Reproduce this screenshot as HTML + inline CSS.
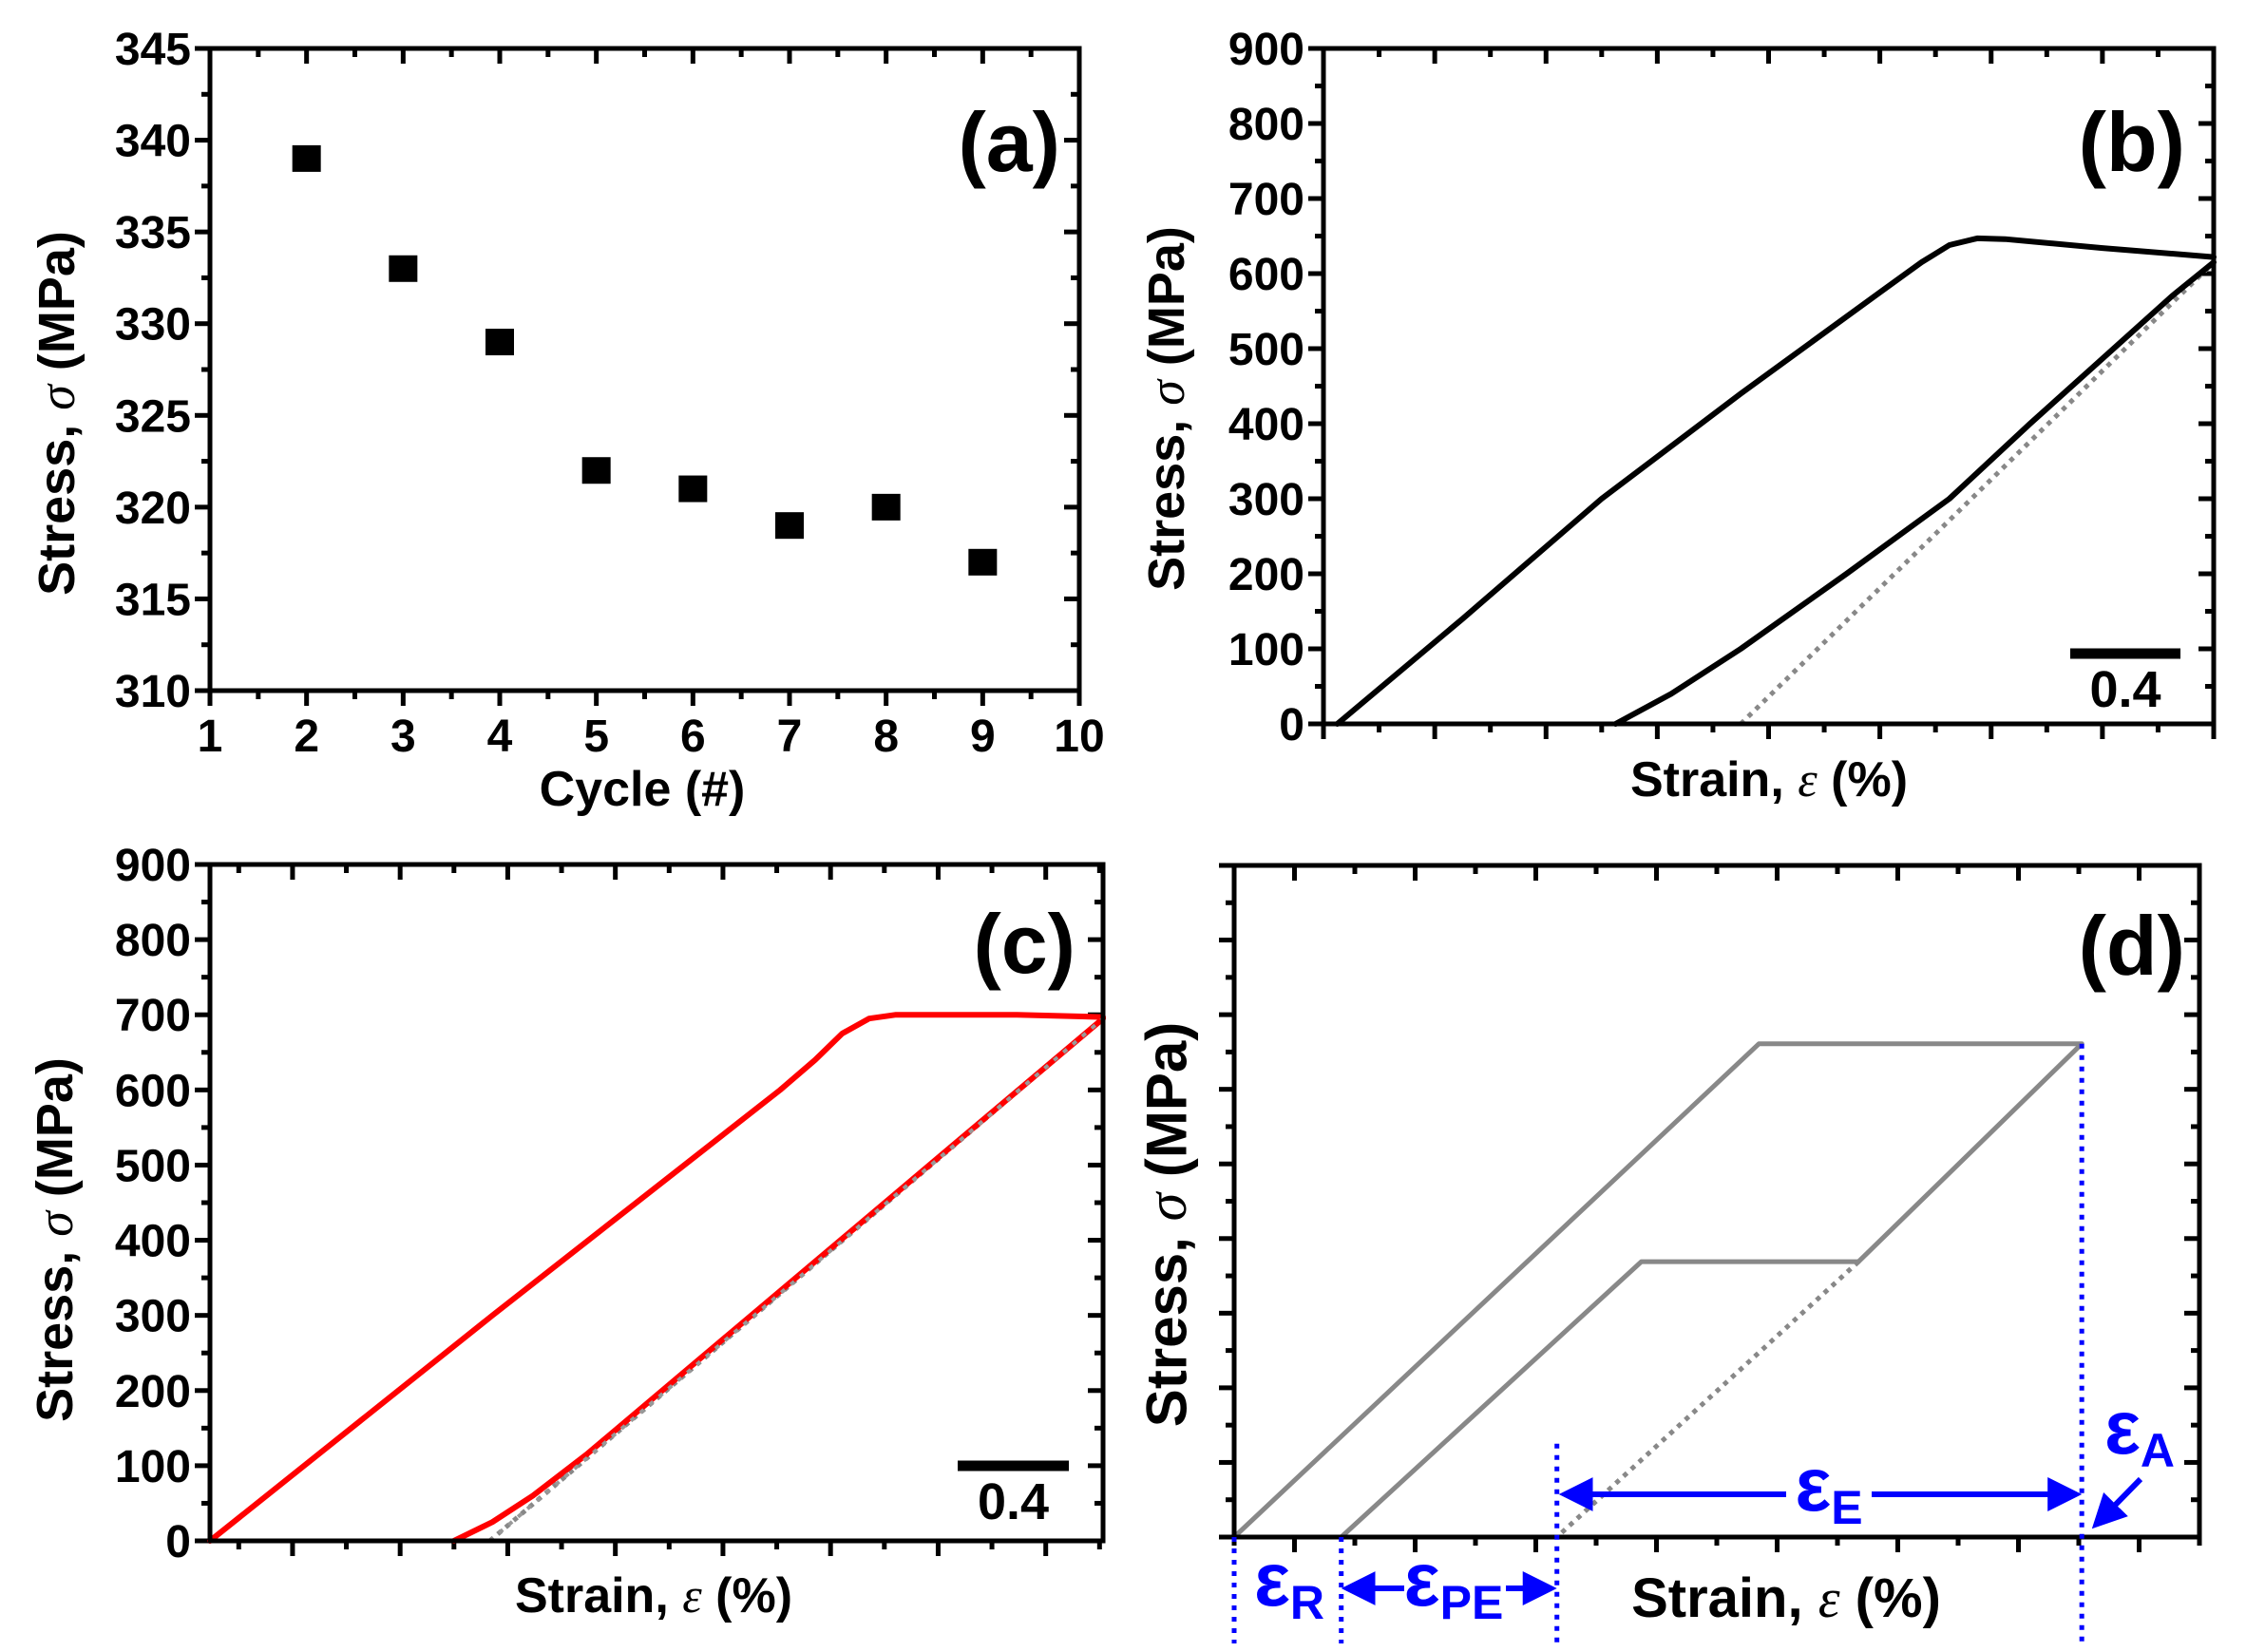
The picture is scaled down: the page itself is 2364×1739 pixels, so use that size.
<!DOCTYPE html>
<html><head><meta charset="utf-8"><style>
html,body{margin:0;padding:0;background:#fff;}
svg{display:block;}
text{font-family:"Liberation Sans",sans-serif;font-weight:bold;}
</style></head><body>
<svg id="fig" width="2364" height="1739" viewBox="0 0 2364 1739" xmlns="http://www.w3.org/2000/svg"></svg>
<script>
// ---- Panel (a) data ----
const cyclesA = [2,3,4,5,6,7,8,9];
const stressA = [339,333,329,322,321,319,320,317];
const xTicksA = [1,2,3,4,5,6,7,8,9,10];
const yTicksA = [310,315,320,325,330,335,340,345];
// ---- Panel (b) data ----
const loadStrainB = [0.05,0.5,1.0,1.5,2.0,2.15,2.25,2.35,2.45,2.8,3.2];
const loadStressB = [0,140,300,440,575,615,638,647,646,634,622];
const unloadStrainB = [1.05,1.25,1.5,1.88,2.25,2.54,2.84,3.05,3.2];
const unloadStressB = [0,40,100,200,300,400,500,570,615];
const fitStrainB = [1.5,3.2];
const fitStressB = [0,615];
// ---- Panel (c) data ----
const loadStrainC = [0,1.05,2.12,2.25,2.35,2.45,2.55,3.0,3.32];
const loadStressC = [0,300,600,640,675,695,700,700,697];
const unloadStrainC = [0.907,1.05,1.2,1.4,3.32];
const unloadStressC = [0,25,60,115,695];
const fitStrainC = [1.04,3.32];
const fitStressC = [0,695];
const yTicksStress = [0,100,200,300,400,500,600,700,800,900];
// ---- Panel (d) schematic ----
const outerStrainD = [0.355,0,1.74,2.81,2.07];
const outerStressD = [0,0,661,661,369];
const innerStrainD = [0.355,1.35,2.07];
const innerStressD = [0,369,369];
const dotStrainD = [2.07,1.07];
const dotStressD = [369,0];

const NS="http://www.w3.org/2000/svg";
const svg=document.getElementById('fig');
function mk(tag,attrs,parent){const e=document.createElementNS(NS,tag);for(const k in attrs)e.setAttribute(k,attrs[k]);(parent||svg).appendChild(e);return e;}
function txt(s,attrs,parent){const e=mk('text',attrs,parent);e.textContent=s;return e;}
function scale(d0,d1,r0,r1){return v=>r0+(v-d0)/(d1-d0)*(r1-r0);}

function frame(g,L,R,T,B){
  const r=mk('rect',{x:L,y:T,width:R-L,height:B-T,fill:'none',stroke:'#000','stroke-width':5},g);
  
  
}
function yTicks(g,ys,L,R,major){
  ys.forEach((y,i)=>{
    const len=major(i)?16:9;
    const t=mk('line',{x1:L-len,x2:L,y1:y,y2:y,stroke:'#000','stroke-width':5},g);
    
    
    const t2=mk('line',{x1:R,x2:R-len,y1:y,y2:y,stroke:'#000','stroke-width':5},g);
    
    
  });
}
function xTicks(g,xs,T,B,major){
  xs.forEach((x,i)=>{
    const len=major(i)?16:9;
    const t=mk('line',{x1:x,x2:x,y1:B,y2:B+len,stroke:'#000','stroke-width':5},g);
    
    
    const t2=mk('line',{x1:x,x2:x,y1:T,y2:T+len,stroke:'#000','stroke-width':5},g);
    
    
  });
}
function yLabels(g,vals,sy,L){
  vals.forEach(v=>{
    const t=txt(String(v),{x:L-20,y:sy(v)+17,'font-size':48,'text-anchor':'end'},g);
    
    
  });
}
function stressTitle(g,cx,cy,fs){
  const t=mk('text',{x:0,y:0,'font-size':fs,'text-anchor':'middle','dominant-baseline':'central',transform:`translate(${cx},${cy}) rotate(-90)`},g);
  
  
  t.innerHTML='Stress, <tspan font-family="Liberation Serif" font-style="italic" font-weight="normal">σ</tspan> (MPa)';
}
function strainTitle(g,cx,cy,fs){
  const t=mk('text',{x:cx,y:cy,'font-size':fs,'text-anchor':'middle'},g);
  
  
  t.innerHTML='Strain, <tspan font-family="Liberation Serif" font-style="italic" font-weight="normal">ε</tspan> (%)';
}
function panelLabel(g,s,x,y){
  const t=txt(s,{x:x,y:y,'font-size':88,'text-anchor':'end','font-family':'Liberation Sans Narrow, Liberation Sans, sans-serif'},g);
  
  
}
function curve(g,xs,ys,sx,sy,color,w,dash,name){
  const d=xs.map((x,i)=>(i?'L':'M')+sx(x).toFixed(1)+' '+sy(ys[i]).toFixed(1)).join(' ');
  const p=mk('path',{d:d,fill:'none',stroke:color,'stroke-width':w,'stroke-linejoin':'round','stroke-linecap':dash?'butt':'round'},g);
  if(dash)p.setAttribute('stroke-dasharray',dash);
  
  
}
function scaleBar(g,x1,x2,y){
  const b=mk('line',{x1:x1,x2:x2,y1:y,y2:y,stroke:'#000','stroke-width':11},g);
  
  
  const t=txt('0.4',{x:(x1+x2)/2,y:y+56,'font-size':54,'text-anchor':'middle'},g);
  
  
}

// ===== Panel A =====
(function(){
  const g=mk('g',{});
  
  
  const L=221,R=1136,T=51,B=727;
  const sx=scale(1,10,L,R), sy=scale(310,345,B,T);
  frame(g,L,R,T,B);
  const ys=[];for(let v=310;v<=345;v+=2.5)ys.push(sy(v));
  yTicks(g,ys,L,R,i=>i%2===0);
  const xs=[];for(let v=1;v<=10;v+=0.5)xs.push(sx(v));
  xTicks(g,xs,T,B,i=>i%2===0);
  yLabels(g,yTicksA,sy,L);
  xTicksA.forEach(v=>{
    const t=txt(String(v),{x:sx(v),y:B+64,'font-size':48,'text-anchor':'middle'},g);
    
    
  });
  cyclesA.forEach((c,i)=>{
    const r=mk('rect',{x:sx(c)-15,y:sy(stressA[i])-14,width:30,height:28,fill:'#000'},g);
    
    
  });
  const xt=txt('Cycle (#)',{x:676,y:848,'font-size':52,'text-anchor':'middle'},g);
  
  
  stressTitle(g,60,435,54);
  panelLabel(g,'(a)',1116,180);
})();

// ===== Panel B =====
(function(){
  const g=mk('g',{});
  
  
  const L=1393,R=2330,T=51,B=762;
  const sx=scale(0,3.2,L,R), sy=scale(0,900,B,T);
  const ys=[];for(let v=0;v<=900;v+=50)ys.push(sy(v));
  yTicks(g,ys,L,R,i=>i%2===0);
  const xs=[];for(let v=0;v<=3.2001;v+=0.2)xs.push(sx(v));
  xTicks(g,xs,T,B,i=>i%2===0);
  curve(g,fitStrainB,fitStressB,sx,sy,'#888',5,'5 6','fit-line');
  curve(g,loadStrainB,loadStressB,sx,sy,'#000',6,null,'loading-curve');
  curve(g,unloadStrainB,unloadStressB,sx,sy,'#000',6,null,'unloading-curve');
  frame(g,L,R,T,B);
  yLabels(g,yTicksStress,sy,L);
  strainTitle(g,1862,838,52);
  stressTitle(g,1228,430,54);
  panelLabel(g,'(b)',2300,180);
  scaleBar(g,2179,2295,688);
})();

// ===== Panel C =====
(function(){
  const g=mk('g',{});
  
  
  const L=221,R=1161,T=910,B=1622;
  const sx=scale(0,3.32,L,R), sy=scale(0,900,B,T);
  const ys=[];for(let v=0;v<=900;v+=50)ys.push(sy(v));
  yTicks(g,ys,L,R,i=>i%2===0);
  const xs=[];for(let v=0.107;v<=3.33;v+=0.2)xs.push(sx(v));
  xTicks(g,xs,T,B,i=>i%2===1);
  curve(g,fitStrainC,fitStressC,sx,sy,'#888',5,'5 6','fit-line');
  curve(g,loadStrainC,loadStressC,sx,sy,'#f00',6,null,'loading-curve');
  curve(g,unloadStrainC,unloadStressC,sx,sy,'#f00',6,null,'unloading-curve');
  curve(g,fitStrainC,fitStressC,sx,sy,'#999',4,'5 8','fit-line-overlay');
  frame(g,L,R,T,B);
  yLabels(g,yTicksStress,sy,L);
  strainTitle(g,688,1697,52);
  stressTitle(g,58,1305,54);
  panelLabel(g,'(c)',1132,1024);
  scaleBar(g,1008,1125,1543);
})();

// ===== Panel D =====
(function(){
  const g=mk('g',{});
  
  
  const L=1299,R=2315,T=911,B=1618;
  const sx=scale(0,3.2,L,R), sy=scale(0,900,B,T);
  const ys=[];for(let v=0;v<=900;v+=50)ys.push(sy(v));
  yTicks(g,ys,L,R,i=>i%2===0);
  const xs=[];for(let v=0;v<=3.2001;v+=0.2)xs.push(sx(v));
  xTicks(g,xs,T,B,i=>i%2===1);
  curve(g,outerStrainD,outerStressD,sx,sy,'#888',5,null,'outer-loop');
  curve(g,innerStrainD,innerStressD,sx,sy,'#888',5,null,'inner-loop');
  curve(g,dotStrainD,dotStressD,sx,sy,'#888',5,'5 6','elastic-dotted-line');
  frame(g,L,R,T,B);
  const blue='#0000ff';
  const vlines=[[0,0],[0.355,0],[1.07,125],[2.81,661]];
  vlines.forEach(v=>{
    const l=mk('line',{x1:sx(v[0]),x2:sx(v[0]),y1:sy(v[1]),y2:1730,stroke:blue,'stroke-width':5,'stroke-dasharray':'5 7'},g);
    
    
  });
  const defs=mk('defs',{},svg);
  const m=mk('marker',{id:'ah',markerWidth:6,markerHeight:6,refX:5,refY:3,orient:'auto',markerUnits:'strokeWidth'},defs);
  mk('path',{d:'M0,0 L6,3 L0,6 Z',fill:blue},m);
  function arrow(x1,y1,x2,y2,name){
    const a=mk('line',{x1:x1,y1:y1,x2:x2,y2:y2,stroke:blue,'stroke-width':6,'marker-end':'url(#ah)'},g);
    
    
  }
  arrow(1880,1573,sx(1.07)+8,1573,'eps-e-arrow-left');
  arrow(1970,1573,sx(2.81)-6,1573,'eps-e-arrow-right');
  arrow(1478,1672,sx(0.355)+6,1672,'eps-pe-arrow-left');
  arrow(1585,1672,sx(1.07)-6,1672,'eps-pe-arrow-right');
  arrow(2253,1557,2206,1605,'eps-a-arrow');
  function eps(x,y,sub,name){
    const t=mk('text',{x:x,y:y,'font-size':80,fill:blue,'text-anchor':'middle','font-family':'Liberation Sans Narrow, Liberation Sans, sans-serif'},g);
    
    
    t.innerHTML='ε<tspan font-size="50" dy="14">'+sub+'</tspan>';
  }
  eps(1925,1590,'E','eps-e-label');
  eps(1530,1690,'PE','eps-pe-label');
  eps(1357,1690,'R','eps-r-label');
  eps(2252,1530,'A','eps-a-label');
  strainTitle(g,1880,1702,58);
  stressTitle(g,1228,1289,60);
  panelLabel(g,'(d)',2300,1026);
})();
</script>
</body></html>
